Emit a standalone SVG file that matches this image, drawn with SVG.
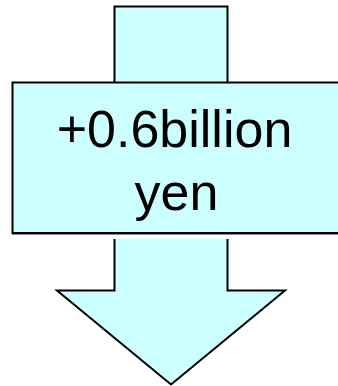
<svg xmlns="http://www.w3.org/2000/svg" width="338" height="386" viewBox="0 0 338 386">
  <style>
    .shape { fill: #CCFFFF; stroke: #000000; stroke-width: 2; stroke-linejoin: miter; }
    .label { font-family: "Liberation Sans", Arial, sans-serif; font-size: 52px; fill: #000000; text-anchor: middle; }
  </style>
  <rect width="338" height="386" fill="#FFFFFF"/>
  <g id="arrow">
    <polygon class="shape" points="114.5,6.5 227.5,6.5 227.5,290.5 285,290.5 171,384.5 57,290.5 114.5,290.5"/>
    <!-- white gap below the label box -->
    <rect x="100" y="234" width="140" height="5" fill="#FFFFFF"/>
  </g>
  <g id="label-box">
    <rect x="12.5" y="82.5" width="340" height="150.5" fill="#CCFFFF" stroke="#000000" stroke-width="2"/>
    <line x1="12" y1="234.5" x2="338" y2="234.5" stroke="#888888" stroke-width="1"/>
    <text class="label" x="174.5" y="146.5">+0.6billion</text>
    <text class="label" x="176.5" y="209.5">yen</text>
  </g>
</svg>
